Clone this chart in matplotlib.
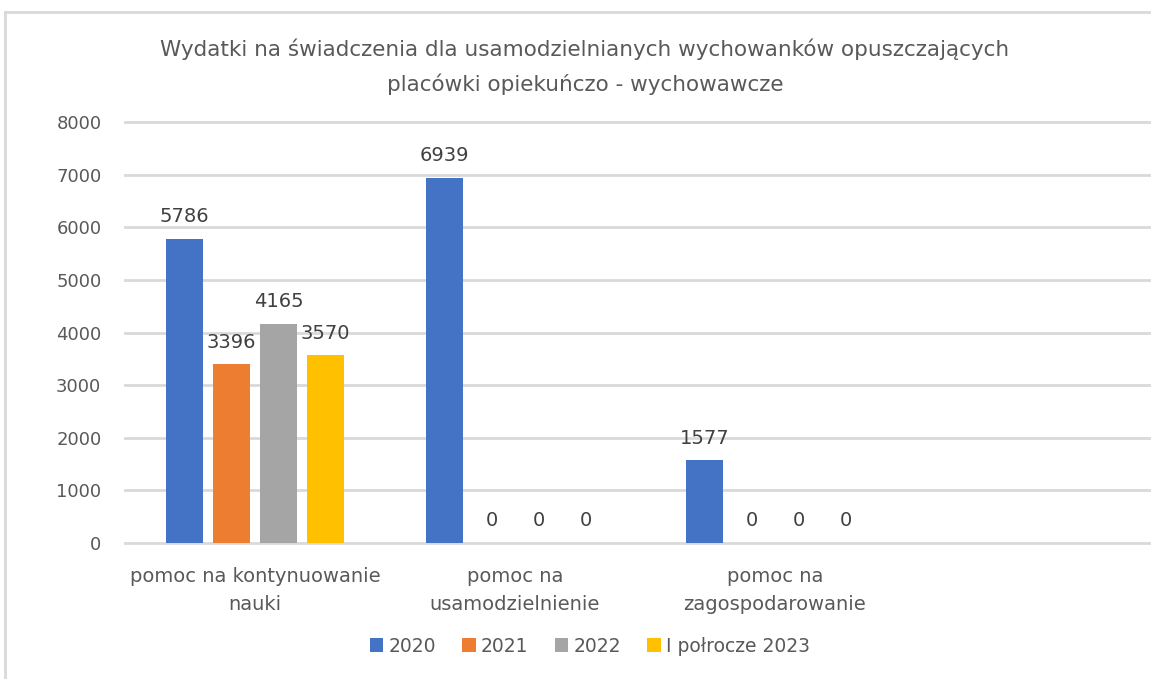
import matplotlib.pyplot as plt
import numpy as np
from matplotlib.lines import Line2D

# Data
categories = ['pomoc na kontynuowanie\nnauki', 'pomoc na\nusamodzielnienie',
              'pomoc na\nzagospodarowanie']
series = ['2020', '2021', '2022', 'I połrocze 2023']
v2020 = [5786, 6939, 1577]
v2021 = [3396, 0, 0]
v2022 = [4165, 0, 0]
v2023 = [3570, 0, 0]
values = [v2020, v2021, v2022, v2023]
colors = ['#4472C4', '#ED7D31', '#A5A5A5', '#FFC000']
yticks = [0, 1000, 2000, 3000, 4000, 5000, 6000, 7000, 8000]

txt = '#595959'
grid = '#d9d9d9'
plt.rcParams['font.family'] = ['DejaVu Sans']

fig = plt.figure(figsize=(11.51, 6.79), dpi=100)
ax = fig.add_axes([125 / 1151, 136 / 679, 1 - 125 / 1151, 421 / 679])

x = np.arange(len(categories))
step = 0.181
width = 0.142
for i, (name, vals) in enumerate(zip(series, values)):
    pos = x + (i - 1.5) * step
    bars = ax.bar(pos, vals, width, color=colors[i], label=name, zorder=3)
    for b, v in zip(bars, vals):
        ax.annotate(str(v), (b.get_x() + b.get_width() / 2, v),
                    xytext=(0, 9), textcoords='offset points',
                    ha='center', va='bottom', fontsize=14, color='#404040')

ax.set_xlim(-0.5, -0.5 + (1151 - 125) / 260)
ax.set_ylim(0, 8000)
ax.set_yticks(yticks)
ax.set_xticks(x)
ax.set_xticklabels(categories, fontsize=14, color=txt, linespacing=1.6)
ax.tick_params(axis='y', length=0, pad=17, labelsize=13, labelcolor=txt)
ax.tick_params(axis='x', length=0, pad=17)
ax.yaxis.grid(True, color=grid, linewidth=2, zorder=0)
for gl in ax.get_ygridlines():
    gl.set_clip_on(False)
ax.set_axisbelow(True)
for s in ax.spines.values():
    s.set_visible(False)

fig.text(585 / 1151, 1 - 67 / 679,
         'Wydatki na świadczenia dla usamodzielnianych wychowanków opuszczających\n'
         'placówki opiekuńczo - wychowawcze',
         ha='center', va='center', fontsize=15.5, color=txt, linespacing=1.75)

leg = fig.legend(loc='center', bbox_to_anchor=(590 / 1151, 1 - 646 / 679), ncol=4,
                 frameon=False, fontsize=13.5, handlelength=0.7, handleheight=0.7,
                 handletextpad=0.3, columnspacing=1.4)
for t in leg.get_texts():
    t.set_color(txt)

# chart frame (top and left edges visible in the screenshot)
fig.add_artist(Line2D([5 / 1151, 5 / 1151], [0, 1 - 12 / 679], color=grid, lw=2))
fig.add_artist(Line2D([5 / 1151, 1], [1 - 12 / 679, 1 - 12 / 679], color=grid, lw=2))

fig.savefig('out.png', dpi=100)
